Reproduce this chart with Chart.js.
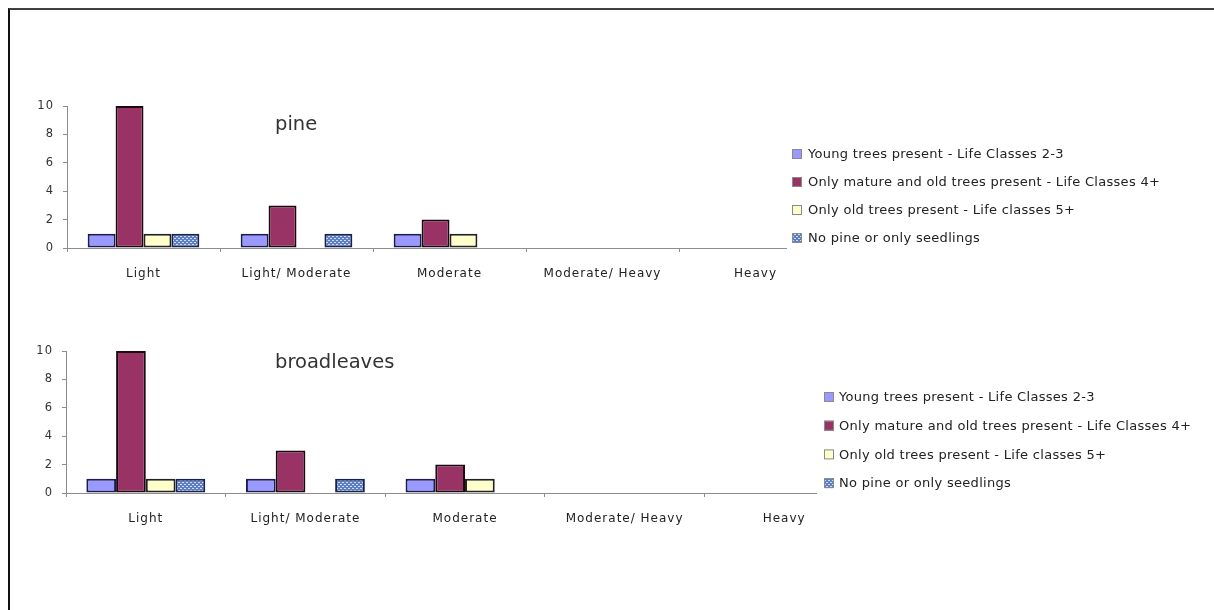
<!DOCTYPE html>
<html>
<head>
<meta charset="utf-8">
<script src="https://cdn.jsdelivr.net/npm/chart.js@4.4.1/dist/chart.umd.min.js"></script>
<style>
  html, body { margin: 0; padding: 0; background: #fff; width: 1214px; height: 610px; overflow: hidden; }
  #frame { position: absolute; left: 8px; top: 8px; width: 1230px; height: 640px;
           border-top: 2px solid #404040; border-left: 2px solid #111; }
  canvas { position: absolute; left: 0; }
  #pineChart { top: 0; }
  #broadChart { top: 300px; }
</style>
</head>
<body>
<div id="frame"></div>
<canvas id="pineChart" width="1214" height="300"></canvas>
<canvas id="broadChart" width="1214" height="310"></canvas>
<script>
// Grazing pressure classes along the category axis
const categories = ['Light', 'Light/ Moderate', 'Moderate', 'Moderate/ Heavy', 'Heavy'];

// Series names (shared by both panels)
const seriesNames = [
  'Young trees present - Life Classes 2-3',
  'Only mature and old trees present - Life Classes 4+',
  'Only old trees present - Life classes 5+',
  'No pine or only seedlings'
];

// Pine counts per class
const pineYoung  = [1, 1, 1, 0, 0];
const pineMature = [10, 3, 2, 0, 0];
const pineOld    = [1, 0, 1, 0, 0];
const pineNone   = [1, 1, 0, 0, 0];

// Broadleaf counts per class
const broadYoung  = [1, 1, 1, 0, 0];
const broadMature = [10, 3, 2, 0, 0];
const broadOld    = [1, 0, 1, 0, 0];
const broadNone   = [1, 1, 0, 0, 0];

// Value axis tick labels
const yTicks = [0, 2, 4, 6, 8, 10];

const FONT = '"DejaVu Sans", sans-serif';

// Blue fill with a small light dotted weave for the last series
function makeDotPattern() {
  const c = document.createElement('canvas');
  c.width = 4; c.height = 4;
  const g = c.getContext('2d');
  g.fillStyle = '#5d7fc6';
  g.fillRect(0, 0, 4, 4);
  g.fillStyle = '#cfdcf6';
  g.fillRect(0, 0, 1, 1);
  g.fillRect(2, 2, 1, 1);
  g.fillRect(1, 0, 1, 1);
  g.fillRect(3, 2, 1, 1);
  return g.createPattern(c, 'repeat');
}
const dotPattern = makeDotPattern();

const seriesFill   = ['#9999ff', '#993366', '#ffffcc', dotPattern];
const seriesBorder = ['#1c1c50', '#1a0a10', '#222222', '#18224a'];

function buildDatasets(seriesData) {
  return seriesData.map((vals, i) => ({
    label: seriesNames[i],
    data: vals,
    backgroundColor: seriesFill[i],
    borderColor: seriesBorder[i],
    borderWidth: 2,
    borderSkipped: false,
    barPercentage: 1.0
  }));
}

// Wide spacing for the axis lettering
const axisSpacing = {
  id: 'axisSpacing',
  beforeDraw(chart) { chart.ctx.letterSpacing = '1px'; }
};

// Panel title and a legend box laid over the right end of the plot
const panelDecor = {
  id: 'panelDecor',
  afterDraw(chart, args, opts) {
    const ctx = chart.ctx;
    ctx.save();
    ctx.textAlign = 'left';
    ctx.textBaseline = 'middle';
    ctx.letterSpacing = '0px';
    ctx.font = '19.5px ' + FONT;
    ctx.fillStyle = '#333333';
    ctx.fillText(opts.title, opts.titleX, opts.titleY);

    const lg = opts.legend;
    ctx.fillStyle = '#ffffff';
    ctx.fillRect(lg.x, lg.y, lg.w, lg.h);
    ctx.font = '13px ' + FONT;
    ctx.letterSpacing = '0.3px';
    chart.data.datasets.forEach((ds, i) => {
      const cy = lg.firstRow + i * lg.rowGap;
      const sx = lg.x + lg.swatchOffset;
      ctx.fillStyle = ds.backgroundColor;
      ctx.fillRect(sx, cy - 5, 10, 10);
      ctx.strokeStyle = '#8a8a8a';
      ctx.lineWidth = 1;
      ctx.strokeRect(sx + 0.5, cy - 4.5, 9, 9);
      ctx.fillStyle = '#222222';
      ctx.fillText(ds.label, sx + lg.textGap, cy + 1);
    });
    ctx.restore();
  }
};

function makeChart(id, seriesData, catPct, pad, decor) {
  return new Chart(document.getElementById(id), {
    type: 'bar',
    data: { labels: categories, datasets: buildDatasets(seriesData) },
    plugins: [axisSpacing, panelDecor],
    options: {
      responsive: false,
      animation: false,
      devicePixelRatio: 1,
      categoryPercentage: catPct,
      layout: { padding: pad },
      plugins: {
        legend: { display: false },
        tooltip: { enabled: false },
        title: { display: false },
        panelDecor: decor
      },
      scales: {
        x: {
          offset: true,
          grid: { display: true, offset: true, drawOnChartArea: false, drawTicks: true, tickLength: 4, color: '#8c8c8c' },
          border: { display: true, color: '#8c8c8c', width: 1 },
          ticks: { font: { family: FONT, size: 12 }, color: '#222222', padding: 15, maxRotation: 0, autoSkip: false },
          afterFit(s) { s.height = 38; }
        },
        y: {
          min: 0,
          max: 10,
          grid: { display: true, drawOnChartArea: false, drawTicks: true, tickLength: 4, color: '#8c8c8c' },
          border: { display: true, color: '#8c8c8c', width: 1 },
          ticks: { font: { family: FONT, size: 11.5 }, color: '#333333', padding: 9 },
          afterBuildTicks(s) { s.ticks = yTicks.map(v => ({ value: v })); },
          afterFit(s) { s.width = 45; }
        }
      }
    }
  });
}

makeChart('pineChart',
  [pineYoung, pineMature, pineOld, pineNone],
  0.73,
  { left: 22, right: 382, top: 106, bottom: 14 },
  {
    title: 'pine', titleX: 275, titleY: 125,
    legend: { x: 787, y: 138, w: 427, h: 114, firstRow: 154, rowGap: 28, swatchOffset: 5, textGap: 16 }
  });

makeChart('broadChart',
  [broadYoung, broadMature, broadOld, broadNone],
  0.745,
  { left: 21, right: 350, top: 51, bottom: 79 },
  {
    title: 'broadleaves', titleX: 275, titleY: 63,
    legend: { x: 817, y: 82, w: 397, h: 116, firstRow: 97, rowGap: 28.7, swatchOffset: 7, textGap: 15 }
  });
</script>
</body>
</html>
